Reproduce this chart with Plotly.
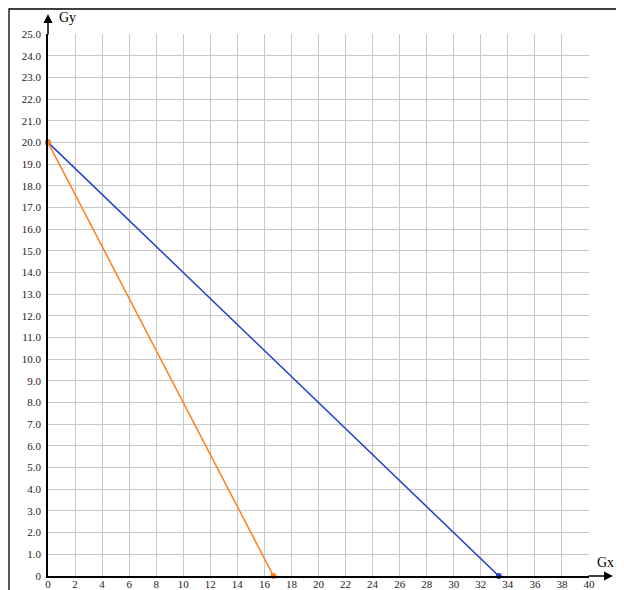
import plotly.graph_objects as go

# line endpoints
orange_x = [0, 16.67]
orange_y = [20, 0]
blue_x = [0, 33.33]
blue_y = [20, 0]

x_ticks = list(range(0, 41, 2))
y_ticks = list(range(0, 26))
y_labels = ["0"] + [f"{v:.1f}" for v in y_ticks[1:]]

# page has an 8px body margin, so work in figure pixels = picture pixels - 8
OFF = 8
W, H = 611, 584
L, T = 40, 26
pw, ph = 541, 542
R, B = W - L - pw, H - T - ph

def px_x(p):
    return (p - OFF - L) / pw

def px_y(p):
    return (T + ph - (p - OFF)) / ph

serif = "Liberation Serif"

fig = go.Figure()
fig.add_trace(go.Scatter(x=blue_x, y=blue_y, mode="lines+markers",
                         line=dict(color="#2040cc", width=1.5),
                         marker=dict(color="#2040cc", size=6),
                         cliponaxis=False, showlegend=False))
fig.add_trace(go.Scatter(x=orange_x, y=orange_y, mode="lines+markers",
                         line=dict(color="#ff7f1e", width=1.5),
                         marker=dict(color="#ff7f1e", size=6),
                         cliponaxis=False, showlegend=False))

axis_common = dict(showgrid=True, gridcolor="#c8c8c8", gridwidth=1,
                   zeroline=False, showline=True, linecolor="black", linewidth=1.5,
                   ticks="", automargin=False,
                   tickfont=dict(family=serif, size=11, color="#222"))

fig.update_xaxes(range=[0, 40], tickvals=x_ticks, ticktext=[str(v) for v in x_ticks],
                 ticklabelstandoff=-3, **axis_common)
fig.update_yaxes(range=[0, 25], tickvals=y_ticks, ticktext=y_labels,
                 ticklabelstandoff=3, **axis_common)

# outer frame
fig.add_shape(type="rect", xref="paper", yref="paper",
              x0=px_x(9), x1=px_x(618), y0=-0.2, y1=px_y(9),
              line=dict(color="black", width=1.3), layer="above")

# axis arrows
fig.add_annotation(x=0, xref="x", y=px_y(14), yref="paper", ax=0, ay=22,
                   text="", showarrow=True, arrowhead=2, arrowsize=1.2,
                   arrowwidth=1.5, arrowcolor="black")
fig.add_annotation(x=px_x(613), xref="paper", y=0, yref="y", ax=-26, ay=0,
                   text="", showarrow=True, arrowhead=2, arrowsize=1.2,
                   arrowwidth=1.5, arrowcolor="black")

fig.add_annotation(x=px_x(67), y=px_y(17), xref="paper", yref="paper",
                   xanchor="center", yanchor="middle",
                   text="Gy", showarrow=False, font=dict(family=serif, size=14, color="black"))
fig.add_annotation(x=px_x(605), y=px_y(562), xref="paper", yref="paper",
                   xanchor="center", yanchor="middle",
                   text="Gx", showarrow=False, font=dict(family=serif, size=14, color="black"))

fig.update_layout(width=W, height=H, margin=dict(l=L, r=R, t=T, b=B, autoexpand=False),
                  paper_bgcolor="white", plot_bgcolor="white",
                  font=dict(family=serif))

fig.write_html("out.html")
